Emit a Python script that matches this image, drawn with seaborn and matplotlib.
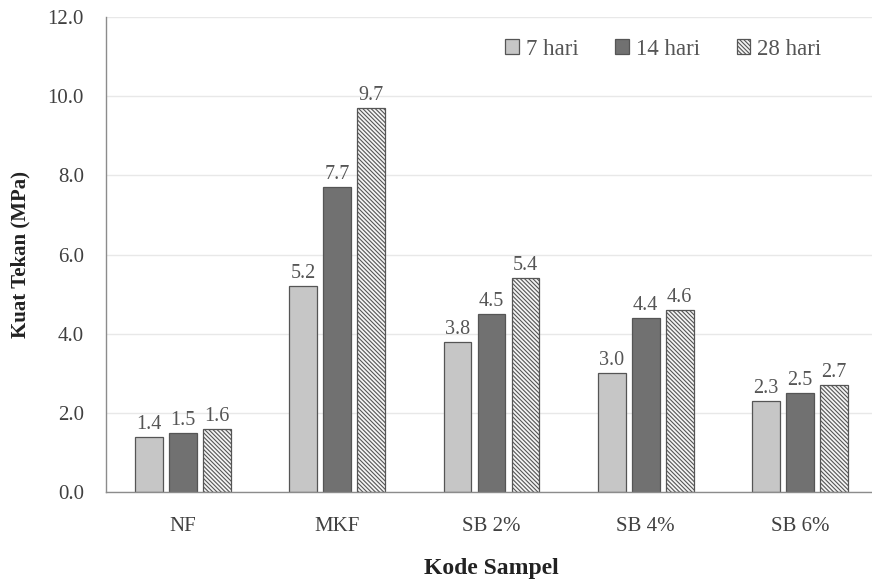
import matplotlib
matplotlib.use("Agg")
import matplotlib.pyplot as plt
import seaborn as sns
import pandas as pd

categories = ["NF", "MKF", "SB 2%", "SB 4%", "SB 6%"]
series_names = ["7 hari", "14 hari", "28 hari"]
hari7 = [1.4, 5.2, 3.8, 3.0, 2.3]
hari14 = [1.5, 7.7, 4.5, 4.4, 2.5]
hari28 = [1.6, 9.7, 5.4, 4.6, 2.7]
yticks = [0, 2, 4, 6, 8, 10, 12]

rows = []
for name, vals in zip(series_names, [hari7, hari14, hari28]):
    for c, v in zip(categories, vals):
        rows.append({"Kode": c, "Seri": name, "Nilai": v})
df = pd.DataFrame(rows)

sns.set_theme(style="white")
plt.rcParams["font.family"] = ["Liberation Serif", "DejaVu Serif"]
plt.rcParams["hatch.linewidth"] = 0.8

fig = plt.figure(figsize=(8.72, 5.79), dpi=100)
W, H = 872, 579
ax = fig.add_axes([106 / W, (H - 492) / H, (877 - 106) / W, (492 - 17) / H])

palette = {"7 hari": "#c6c6c6", "14 hari": "#717171", "28 hari": "#f4f4f4"}
sns.barplot(data=df, x="Kode", y="Nilai", hue="Seri", order=categories,
            hue_order=series_names, palette=palette, width=0.66, gap=0.18,
            edgecolor="#555555", linewidth=0.9, saturation=1, ax=ax,
            errorbar=None)

hatches = ["", "", "\\\\\\\\\\\\\\\\"]
for cont, h in zip(ax.containers, hatches):
    for bar in cont:
        bar.set_hatch(h)
        bar.set_edgecolor("#555555")
    ax.bar_label(cont, fmt="%.1f", padding=2, fontsize=14.5, color="#555555")

ax.set_ylim(0, 12)
ax.set_yticks(yticks)
ax.set_yticklabels([f"{t:.1f}" for t in yticks], fontsize=15, color="#404040")
ax.set_xlim(-0.5, 4.5)
ax.tick_params(axis="y", length=0, pad=16)
ax.tick_params(axis="x", length=0, pad=18, labelsize=15, labelcolor="#404040")
ax.yaxis.grid(True, color="#e8e8e8", linewidth=1)
ax.set_axisbelow(True)
for s in ["top", "right"]:
    ax.spines[s].set_visible(False)
for s in ["left", "bottom"]:
    ax.spines[s].set_color("#8c8c8c")
    ax.spines[s].set_linewidth(1)

ax.set_ylabel("Kuat Tekan (MPa)", fontsize=15, fontweight="bold", color="#222222", labelpad=12)
ax.set_xlabel("Kode Sampel", fontsize=17, fontweight="bold", color="#222222", labelpad=16)

handles, labels = ax.get_legend_handles_labels()
for hd, h in zip(handles, hatches):
    hd.set_hatch(h)
    hd.set_edgecolor("#555555")
ax.legend(handles, labels, loc="upper right", bbox_to_anchor=(842 / W, 1 - 18 / H),
          bbox_transform=fig.transFigure, ncol=3, frameon=False, fontsize=16.5,
          handlelength=0.6, handleheight=0.6, handletextpad=0.3, columnspacing=1.6,
          labelcolor="#555555")

fig.savefig("out.png", dpi=100)
